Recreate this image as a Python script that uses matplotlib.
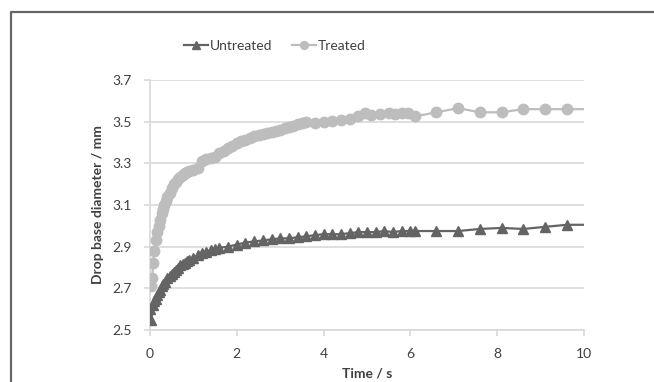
import matplotlib
matplotlib.use('Agg')
import matplotlib.pyplot as plt
from matplotlib.lines import Line2D

# Czas (s) i średnica podstawy kropli (mm)
t_untreated = [0.0, 0.03, 0.07, 0.1, 0.13, 0.17, 0.2, 0.23, 0.27, 0.3, 0.35, 0.4, 0.45, 0.5,
               0.55, 0.6, 0.65, 0.7, 0.75, 0.8, 0.85, 0.9, 1.0, 1.1, 1.2, 1.3, 1.4, 1.5, 1.6,
               1.8, 2.0, 2.2, 2.4, 2.6, 2.8, 3.0, 3.2, 3.4, 3.6, 3.8, 4.0, 4.2, 4.4, 4.6, 4.8,
               5.0, 5.2, 5.4, 5.6, 5.8, 6.0, 6.1, 6.6, 7.1, 7.6, 8.1, 8.6, 9.1, 9.6, 10.1]
d_untreated = [2.60, 2.55, 2.62, 2.64, 2.65, 2.67, 2.68, 2.69, 2.71, 2.72, 2.73, 2.75, 2.76, 2.77,
               2.78, 2.79, 2.80, 2.81, 2.815, 2.82, 2.83, 2.835, 2.845, 2.86, 2.87, 2.875, 2.885,
               2.89, 2.895, 2.90, 2.91, 2.92, 2.925, 2.93, 2.935, 2.94, 2.94, 2.945, 2.95, 2.955,
               2.96, 2.96, 2.96, 2.965, 2.97, 2.97, 2.97, 2.975, 2.97, 2.975, 2.975, 2.975,
               2.975, 2.975, 2.985, 2.99, 2.985, 2.995, 3.005, 3.005]

t_treated = [0.03, 0.05, 0.07, 0.1, 0.13, 0.17, 0.2, 0.23, 0.27, 0.3, 0.33, 0.37, 0.4, 0.45, 0.5,
             0.55, 0.6, 0.65, 0.7, 0.75, 0.8, 0.85, 0.9, 1.0, 1.1, 1.2, 1.3, 1.4, 1.5, 1.6, 1.7,
             1.8, 1.9, 2.0, 2.1, 2.2, 2.3, 2.4, 2.5, 2.6, 2.7, 2.8, 2.9, 3.0, 3.1, 3.2, 3.3, 3.4,
             3.5, 3.6, 3.8, 4.0, 4.2, 4.4, 4.6, 4.8, 4.95, 5.1, 5.3, 5.5, 5.65, 5.8, 5.95, 6.1,
             6.6, 7.1, 7.6, 8.1, 8.6, 9.1, 9.6, 10.1]
d_treated = [2.71, 2.75, 2.82, 2.88, 2.93, 2.97, 3.00, 3.03, 3.06, 3.08, 3.10, 3.12, 3.14, 3.16,
             3.18, 3.20, 3.21, 3.225, 3.235, 3.245, 3.255, 3.26, 3.265, 3.27, 3.28, 3.31, 3.32,
             3.325, 3.33, 3.35, 3.36, 3.375, 3.385, 3.40, 3.405, 3.41, 3.42, 3.43, 3.435, 3.44,
             3.445, 3.45, 3.455, 3.46, 3.47, 3.475, 3.48, 3.49, 3.495, 3.50, 3.495, 3.50, 3.505,
             3.51, 3.515, 3.525, 3.54, 3.53, 3.535, 3.54, 3.535, 3.54, 3.54, 3.525, 3.545, 3.565,
             3.545, 3.545, 3.56, 3.56, 3.56, 3.56]

x_ticks = [0, 2, 4, 6, 8, 10]
y_ticks = [2.5, 2.7, 2.9, 3.1, 3.3, 3.5, 3.7]

plt.rcParams['font.family'] = ['Lato', 'DejaVu Sans']

fig = plt.figure(figsize=(6.54, 3.82), dpi=100)
ax = fig.add_axes([150 / 654, 52 / 382, 434 / 654, 250 / 382])

# Ramka wykresu - widać tylko lewą i górną krawędź
fx = 11 / 654
fy = 1 - 12 / 382
fig.lines.append(Line2D([fx, fx, 1.0], [0.0, fy, fy], transform=fig.transFigure,
                        color='#666666', linewidth=1.6))

# ostatni punkt (poza osią) bez znacznika - linia dochodzi do krawędzi
ax.plot(t_untreated, d_untreated, '-^', color='#646464', linewidth=1.6,
        markersize=7, markevery=slice(0, len(t_untreated) - 1),
        label='Untreated', zorder=3)
ax.plot(t_treated, d_treated, '-o', color='#bdbdbd', linewidth=1.6,
        markersize=7.5, markevery=slice(0, len(t_treated) - 1),
        label='Treated', zorder=3)

ax.set_xlim(0, 10)
ax.set_ylim(2.5, 3.7)
ax.set_xticks(x_ticks)
ax.set_yticks(y_ticks)
ax.set_yticklabels([f'{v:.1f}' for v in y_ticks])

ax.grid(True, axis='y', color='#d9d9d9', linewidth=1.2, zorder=0)
for side in ['top', 'right']:
    ax.spines[side].set_visible(False)
for side in ['left', 'bottom']:
    ax.spines[side].set_color('#d9d9d9')
    ax.spines[side].set_linewidth(1.2)
ax.tick_params(axis='both', colors='#d9d9d9', labelcolor='#404040', labelsize=10,
               length=4, width=1.2)
ax.tick_params(axis='y', pad=9)
ax.tick_params(axis='x', pad=9)

ax.set_ylabel('Drop base diameter / mm', fontsize=10, fontweight='bold', color='#404040',
              labelpad=6)
ax.set_xlabel('Time / s', fontsize=10, fontweight='bold', color='#404040', labelpad=5)

fig.legend(loc='center', bbox_to_anchor=(275 / 654, 1 - 46 / 382), ncol=2, frameon=False,
           fontsize=10, handlelength=1.7, handletextpad=0.15, columnspacing=1.4,
           labelcolor='#404040', markerscale=0.75)

fig.savefig('out.png', dpi=100)
plt.close(fig)
